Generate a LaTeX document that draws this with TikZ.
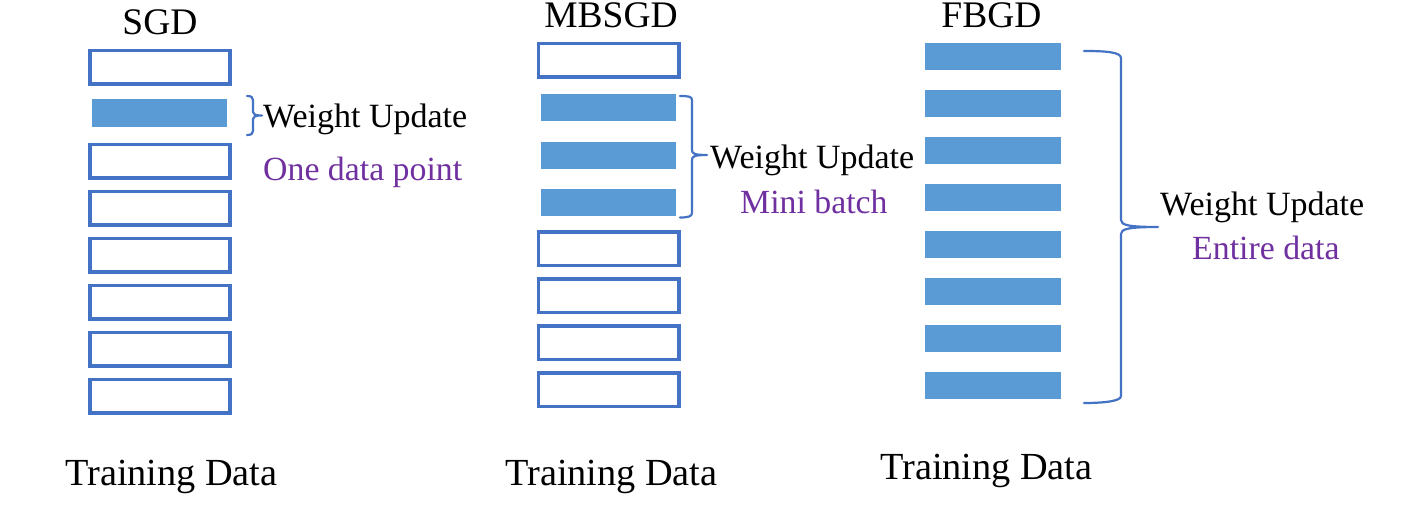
\documentclass[tikz,border=0pt]{standalone}
\usepackage{fontspec}
\setmainfont{Liberation Serif}
\definecolor{outl}{HTML}{4472C4}
\definecolor{fillb}{HTML}{5B9BD5}
\definecolor{purp}{HTML}{7030A0}
\begin{document}
\begin{tikzpicture}[x=1pt,y=-1pt,
  obox/.style={draw=outl, line width=3.6pt, fill=white, minimum width=140.4pt, minimum height=33.6pt, inner sep=0pt, outer sep=0pt},
  fbox/.style={fill=fillb, draw=none, minimum width=135.5pt, minimum height=27.5pt, inner sep=0pt, outer sep=0pt},
  title/.style={font=\fontsize{37.5}{44}\selectfont, inner sep=0pt, anchor=base},
  tdata/.style={font=\fontsize{38.3}{44}\selectfont, inner sep=0pt, anchor=base west},
  wu/.style={font=\fontsize{34}{40}\selectfont, inner sep=0pt, anchor=base west},
  pl/.style={font=\fontsize{33.8}{40}\selectfont, text=purp, inner sep=0pt, anchor=base west},
  brace/.style={draw=outl, line width=2.2pt, line join=round, line cap=round}]
\fill[white] (0,0) rectangle (1419,510);
\useasboundingbox (0,0) rectangle (1419,510);

% ---- SGD ----
\node[title] (t1) at (160,35) {SGD};
\node[obox] (s1) at (160,67.2) {};
\node[fbox] (s2) at (159.5,113) {};
\node[obox] (s3) at (160,161.2) {};
\node[obox] (s4) at (160,208.2) {};
\node[obox] (s5) at (160,255.2) {};
\node[obox] (s6) at (160,302.2) {};
\node[obox] (s7) at (160,349.2) {};
\node[obox] (s8) at (160,396.2) {};
\node[tdata] (d1) at (65,485) {Training Data};
\node[wu] (w1) at (263,127.5) {Weight Update};
\node[pl] (p1) at (263,180.5) {One data point};
\draw[brace] (247,96) .. controls (251,96) and (253,97) .. (253,100) -- (253,112)
  .. controls (253,114.5) and (255,115.5) .. (262,115.5)
  .. controls (255,115.5) and (253,116.5) .. (253,119) -- (253,131)
  .. controls (253,134) and (251,135) .. (247,135);

% ---- MBSGD ----
\node[title] (t2) at (611,28) {MBSGD};
\node[obox] (m1) at (608.8,60.5) {};
\node[fbox] (m2) at (608.5,107.5) {};
\node[fbox] (m3) at (608.5,155.5) {};
\node[fbox] (m4) at (608.5,202.5) {};
\node[obox] (m5) at (608.8,248.8) {};
\node[obox] (m6) at (608.8,295.8) {};
\node[obox] (m7) at (608.8,342.6) {};
\node[obox] (m8) at (608.8,389.8) {};
\node[tdata] (d2) at (505,485) {Training Data};
\node[wu] (w2) at (710,168.5) {Weight Update};
\node[pl] (p2) at (740,213.5) {Mini batch};
\draw[brace] (680,96) .. controls (688,96) and (692,96.5) .. (692,100) -- (692,150)
  .. controls (692,153.5) and (694,155) .. (707,155)
  .. controls (694,155) and (692,156.5) .. (692,160) -- (692,213)
  .. controls (692,216.5) and (688,217.5) .. (680,217.5);

% ---- FBGD ----
\node[title] (t3) at (991.5,28) {FBGD};
\node[fbox] (f1) at (993,56.5) {};
\node[fbox] (f2) at (993,103.5) {};
\node[fbox] (f3) at (993,150.5) {};
\node[fbox] (f4) at (993,197.5) {};
\node[fbox] (f5) at (993,244.5) {};
\node[fbox] (f6) at (993,291.5) {};
\node[fbox] (f7) at (993,338.5) {};
\node[fbox] (f8) at (993,385.5) {};
\node[tdata] (d3) at (880,479) {Training Data};
\node[wu] (w3) at (1160,215.5) {Weight Update};
\node[pl] (p3) at (1192,259.5) {Entire data};
\draw[brace] (1084,51) .. controls (1105,51) and (1121,52) .. (1121,58) -- (1121,220)
  .. controls (1121,225) and (1128,227) .. (1158,227)
  .. controls (1128,227) and (1121,229) .. (1121,234) -- (1121,396)
  .. controls (1121,401) and (1105,403) .. (1084,403);
\end{tikzpicture}
\end{document}
